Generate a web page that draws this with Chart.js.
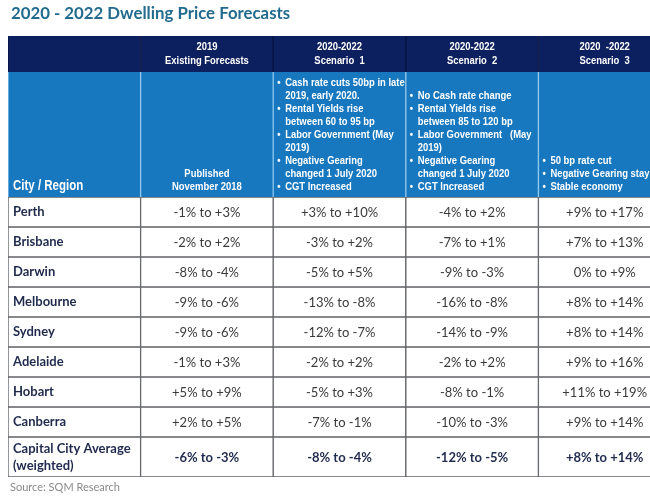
<!DOCTYPE html>
<html>
<head>
<meta charset="utf-8">
<script src="https://cdn.jsdelivr.net/npm/chart.js@4/dist/chart.umd.min.js"></script>
<style>
  html, body { margin: 0; padding: 0; background: #fff; overflow: hidden; width: 650px; height: 497px; }
  #wrap { position: absolute; left: 0; top: 0; width: 680px; height: 497px; }
  #title { position: absolute; left: 11px; top: 2px; font: bold 16.8px Lato, sans-serif; color: #226b8e; white-space: nowrap; }
  #source { position: absolute; left: 10px; top: 480px; font: 11px Lato, sans-serif; color: #8a8a8a; white-space: nowrap; }
</style>
</head>
<body>
<div id="wrap"><canvas id="table-chart"></canvas></div>
<div id="title">2020 - 2022 Dwelling Price Forecasts</div>
<div id="source">Source: SQM Research</div>
<script>
// table content
const cities = ['Perth', 'Brisbane', 'Darwin', 'Melbourne', 'Sydney', 'Adelaide', 'Hobart', 'Canberra', ['Capital City Average', '(weighted)']];

const existingLow  = [-1, -2, -8, -9, -9, -1, 5, 2, -6];
const existingHigh = [3, 2, -4, -6, -6, 3, 9, 5, -3];
const scenario1Low  = [3, -3, -5, -13, -12, -2, -5, -7, -8];
const scenario1High = [10, 2, 5, -8, -7, 2, 3, -1, -4];
const scenario2Low  = [-4, -7, -9, -16, -14, -2, -8, -10, -12];
const scenario2High = [2, 1, -3, -8, -9, 2, -1, -3, -5];
const scenario3Low  = [9, 7, 0, 8, 8, 9, 11, 9, 8];
const scenario3High = [17, 13, 9, 14, 14, 16, 19, 14, 14];

const columnTitles = [
  [],
  ['2019', 'Existing Forecasts'],
  ['2020-2022', 'Scenario  1'],
  ['2020-2022', 'Scenario  2'],
  ['2020  -2022', 'Scenario  3']
];

const existingNote = ['Published', 'November 2018'];
const scenario1Notes = [
  ['Cash rate cuts 50bp in late', '2019, early 2020.'],
  ['Rental Yields rise', 'between 60 to 95 bp'],
  ['Labor Government (May', '2019)'],
  ['Negative Gearing', 'changed 1 July 2020'],
  ['CGT Increased']
];
const scenario2Notes = [
  ['No Cash rate change'],
  ['Rental Yields rise', 'between 85 to 120 bp'],
  ['Labor Government   (May', '2019)'],
  ['Negative Gearing', 'changed 1 July 2020'],
  ['CGT Increased']
];
const scenario3Notes = [
  ['50 bp rate cut'],
  ['Negative Gearing stays'],
  ['Stable economy']
];

// layout (row heights in px of the chart area)
const ROW_H = [36, 125, 30, 30, 30, 30, 30, 30, 30, 30, 40];
const HEAD = '"Liberation Sans", Arial, sans-serif';
const NARROW_X = 0.82; // squeeze to look like Arial Narrow
const BODY = 'Lato, "Open Sans", sans-serif';

const lows = [existingLow, scenario1Low, scenario2Low, scenario3Low];
const highs = [existingHigh, scenario1High, scenario2High, scenario3High];
const notes = [null, null, scenario1Notes, scenario2Notes, scenario3Notes];

const fmt = v => (v > 0 ? '+' : '') + v + '%';

const tops = [];
ROW_H.reduce((acc, h) => { tops.push(acc); return acc + h; }, 0);
const total = ROW_H.reduce((a, b) => a + b, 0);

const rowStyle = r => {
  if (r === 0) return { bg: '#0c1f5e', border: '#06133f', bw: { left: 1, right: 1, top: 0, bottom: 0 } };
  if (r === 1) return { bg: '#1777bf', border: '#8cc6ee', bw: { left: 1, right: 1, top: 0, bottom: 0 } };
  return { bg: '#ffffff', border: '#5f6266', bw: 1 };
};

const datasets = ROW_H.map((h, r) => {
  const s = rowStyle(r);
  return {
    label: r < 2 ? 'header' + r : [].concat(cities[r - 2]).join(' '),
    data: columnTitles.map(() => [tops[r], tops[r] + h]),
    backgroundColor: s.bg,
    borderColor: s.border,
    borderWidth: s.bw,
    borderSkipped: false,
    grouped: false,
    barPercentage: 1,
    categoryPercentage: 1
  };
});

// narrow header text: draw squeezed horizontally around the anchor
function narrowText(ctx, t, x, y) {
  ctx.save();
  ctx.translate(x, y);
  ctx.scale(NARROW_X, 1);
  ctx.fillText(t, 0, 0);
  ctx.restore();
}

const tableText = {
  id: 'tableText',
  afterDatasetsDraw(chart) {
    const ctx = chart.ctx;
    ctx.save();
    ctx.textBaseline = 'middle';
    chart.data.datasets.forEach((ds, r) => {
      chart.getDatasetMeta(r).data.forEach((bar, c) => {
        const p = bar.getProps(['x', 'y', 'base', 'width'], true);
        const top = Math.min(p.y, p.base);
        const bottom = Math.max(p.y, p.base);
        const left = p.x - p.width / 2;
        const mid = (top + bottom) / 2;

        if (r === 0) {
          ctx.font = 'bold 11.5px ' + HEAD;
          ctx.fillStyle = '#ffffff';
          ctx.textAlign = 'center';
          const lines = columnTitles[c];
          lines.forEach((t, k) => narrowText(ctx, t, p.x, mid + (k - (lines.length - 1) / 2) * 14));
        } else if (r === 1) {
          ctx.fillStyle = '#ffffff';
          if (c === 0) {
            ctx.font = 'bold 14px ' + HEAD;
            ctx.textAlign = 'left';
            narrowText(ctx, 'City / Region', left + 5, bottom - 11);
          } else if (c === 1) {
            ctx.font = 'bold 11.5px ' + HEAD;
            ctx.textAlign = 'center';
            existingNote.forEach((t, k) => narrowText(ctx, t, p.x, bottom - 10 - (existingNote.length - 1 - k) * 13));
          } else {
            ctx.font = 'bold 11.5px ' + HEAD;
            ctx.textAlign = 'left';
            const lines = [];
            notes[c].forEach(item => item.forEach((t, k) => lines.push({ t, bullet: k === 0 })));
            lines.forEach((ln, k) => {
              const y = bottom - 10 - (lines.length - 1 - k) * 13;
              if (ln.bullet) narrowText(ctx, '•', left + 4, y);
              narrowText(ctx, ln.t, left + 12, y);
            });
          }
        } else {
          const i = r - 2;
          const last = i === cities.length - 1;
          if (c === 0) {
            ctx.font = 'bold 13px ' + BODY;
            ctx.fillStyle = '#1f2a4d';
            ctx.textAlign = 'left';
            const lines = [].concat(cities[i]);
            lines.forEach((t, k) => ctx.fillText(t, left + 5, mid + (k - (lines.length - 1) / 2) * 17));
          } else {
            ctx.font = (last ? 'bold ' : '') + '13px ' + BODY;
            ctx.fillStyle = last ? '#1f2a4d' : '#3a3a3a';
            ctx.textAlign = 'center';
            ctx.fillText(fmt(lows[c - 1][i]) + ' to ' + fmt(highs[c - 1][i]), p.x, mid + 1);
          }
        }
      });
    });
    ctx.restore();
  }
};

new Chart(document.getElementById('table-chart'), {
  type: 'bar',
  data: {
    labels: ['City / Region', '2019', 'Scenario 1', 'Scenario 2', 'Scenario 3'],
    datasets: datasets
  },
  options: {
    responsive: true,
    maintainAspectRatio: false,
    animation: false,
    layout: { padding: { top: 36, bottom: 20, left: 8, right: 9 } },
    scales: {
      x: { type: 'category', display: false, offset: true },
      y: { type: 'linear', display: false, reverse: true, min: 0, max: total }
    },
    plugins: {
      legend: { display: false },
      tooltip: { enabled: false }
    }
  },
  plugins: [tableText]
});
</script>
</body>
</html>
